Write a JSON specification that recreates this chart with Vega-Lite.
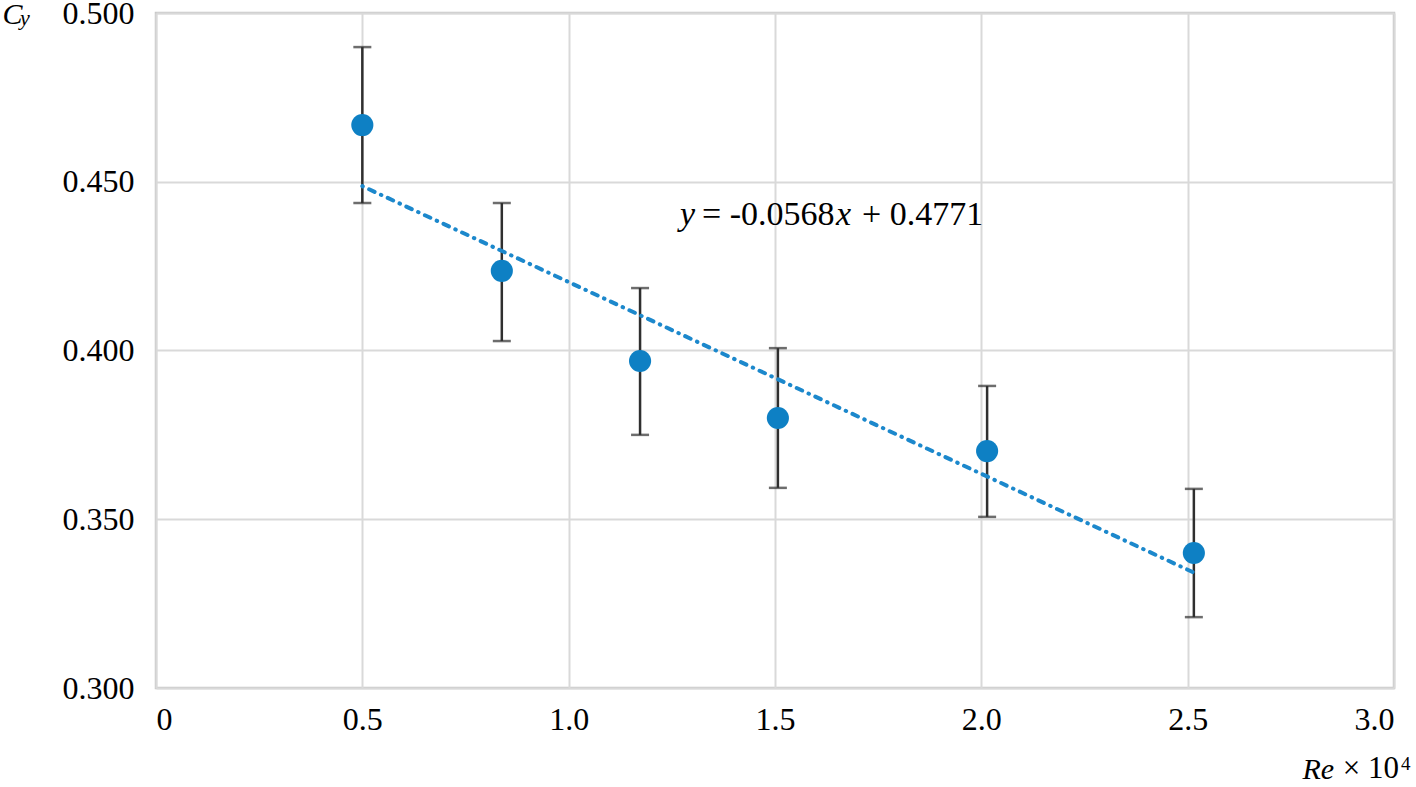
{
  "$schema": "https://vega.github.io/schema/vega-lite/v6.json",
  "width": 1238,
  "height": 675,
  "autosize": {"type": "none"},
  "padding": {"left": 156, "top": 13, "right": 22, "bottom": 99},
  "background": "white",
  "config": {
    "view": {"stroke": "#c8c8c8", "strokeWidth": 2.5},
    "font": "Liberation Serif"
  },
  "datasets": {
    "pts": [
      {"x": 0.5, "y": 0.4668, "lo": 0.4437, "hi": 0.4899},
      {"x": 0.838, "y": 0.4236, "lo": 0.4028, "hi": 0.4437},
      {"x": 1.173, "y": 0.3969, "lo": 0.375, "hi": 0.4185},
      {"x": 1.507, "y": 0.380, "lo": 0.3593, "hi": 0.4007},
      {"x": 2.014, "y": 0.3702, "lo": 0.3507, "hi": 0.3895},
      {"x": 2.515, "y": 0.340, "lo": 0.321, "hi": 0.359}
    ],
    "trend": [
      {"x": 0.5, "y": 0.4487},
      {"x": 2.515, "y": 0.3342}
    ],
    "italicLabels": [
      {"x": 1.2698, "y": 0.4372, "t": "y"},
      {"x": 1.6478, "y": 0.4372, "t": "x"}
    ],
    "plainLabels": [
      {"x": 1.3231, "y": 0.4372, "t": "= -0.0568"},
      {"x": 1.7108, "y": 0.4372, "t": "+ 0.4771"}
    ],
    "axisExtras": [
      {"x": 2.876, "y": 0.27333, "t": "× 10"}
    ],
    "superscript": [
      {"x": 3.0169, "y": 0.2757, "t": "4"}
    ],
    "subscript": [
      {"x": -0.3296, "y": 0.49644, "t": "y"}
    ]
  },
  "layer": [
    {
      "data": {"name": "pts"},
      "mark": {"type": "rule", "color": "#2f2f2f", "strokeWidth": 2.5},
      "encoding": {
        "x": {
          "field": "x", "type": "quantitative",
          "scale": {"domain": [0, 3], "nice": false, "zero": false},
          "axis": {
            "values": [0, 0.5, 1, 1.5, 2, 2.5, 3],
            "labelExpr": "datum.value == 0 ? '0' : format(datum.value, '.1f')",
            "labelFont": "Liberation Serif", "labelFontSize": 32, "labelColor": "#000",
            "labelPadding": 16, "ticks": false, "domain": false,
            "gridColor": "#d9d9d9", "gridWidth": 2,
            "title": "Re", "titleFont": "Liberation Serif", "titleFontSize": 30,
            "titleFontStyle": "italic", "titleFontWeight": "normal", "titleColor": "#000",
            "titleAlign": "left", "titleBaseline": "alphabetic",
            "titleX": 1146, "titleY": 90, "titleAngle": 0
          }
        },
        "y": {
          "field": "lo", "type": "quantitative",
          "scale": {"domain": [0.3, 0.5], "nice": false, "zero": false},
          "axis": {
            "values": [0.3, 0.35, 0.4, 0.45, 0.5],
            "format": ".3f",
            "labelFont": "Liberation Serif", "labelFontSize": 32, "labelColor": "#000",
            "labelPadding": 22, "ticks": false, "domain": false,
            "gridColor": "#d9d9d9", "gridWidth": 2,
            "title": "C", "titleFont": "Liberation Serif", "titleFontSize": 30,
            "titleFontStyle": "italic", "titleFontWeight": "normal", "titleColor": "#000",
            "titleAlign": "left", "titleBaseline": "alphabetic",
            "titleX": -154, "titleY": 10, "titleAngle": 0
          }
        },
        "y2": {"field": "hi"}
      }
    },
    {
      "data": {"name": "pts"},
      "mark": {"type": "tick", "orient": "horizontal", "color": "#2f2f2f", "size": 18, "thickness": 2.5},
      "encoding": {
        "x": {"field": "x", "type": "quantitative"},
        "y": {"field": "lo", "type": "quantitative"}
      }
    },
    {
      "data": {"name": "pts"},
      "mark": {"type": "tick", "orient": "horizontal", "color": "#2f2f2f", "size": 18, "thickness": 2.5},
      "encoding": {
        "x": {"field": "x", "type": "quantitative"},
        "y": {"field": "hi", "type": "quantitative"}
      }
    },
    {
      "data": {"name": "pts"},
      "mark": {"type": "circle", "color": "#0e80c4", "opacity": 1, "size": 490},
      "encoding": {
        "x": {"field": "x", "type": "quantitative"},
        "y": {"field": "y", "type": "quantitative"}
      }
    },
    {
      "data": {"name": "trend"},
      "mark": {"type": "line", "color": "#1c88cc", "strokeWidth": 4, "strokeCap": "round", "strokeDash": [0.5, 7, 6, 7]},
      "encoding": {
        "x": {"field": "x", "type": "quantitative"},
        "y": {"field": "y", "type": "quantitative"}
      }
    },
    {
      "data": {"name": "italicLabels"},
      "mark": {"type": "text", "font": "Liberation Serif", "fontSize": 34, "fontStyle": "italic", "align": "left", "baseline": "alphabetic", "color": "#000"},
      "encoding": {
        "x": {"field": "x", "type": "quantitative"},
        "y": {"field": "y", "type": "quantitative"},
        "text": {"field": "t"}
      }
    },
    {
      "data": {"name": "plainLabels"},
      "mark": {"type": "text", "font": "Liberation Serif", "fontSize": 34, "align": "left", "baseline": "alphabetic", "color": "#000"},
      "encoding": {
        "x": {"field": "x", "type": "quantitative"},
        "y": {"field": "y", "type": "quantitative"},
        "text": {"field": "t"}
      }
    },
    {
      "data": {"name": "axisExtras"},
      "mark": {"type": "text", "font": "Liberation Serif", "fontSize": 31, "align": "left", "baseline": "alphabetic", "color": "#000"},
      "encoding": {
        "x": {"field": "x", "type": "quantitative"},
        "y": {"field": "y", "type": "quantitative"},
        "text": {"field": "t"}
      }
    },
    {
      "data": {"name": "superscript"},
      "mark": {"type": "text", "font": "Liberation Serif", "fontSize": 19, "align": "left", "baseline": "alphabetic", "color": "#000"},
      "encoding": {
        "x": {"field": "x", "type": "quantitative"},
        "y": {"field": "y", "type": "quantitative"},
        "text": {"field": "t"}
      }
    },
    {
      "data": {"name": "subscript"},
      "mark": {"type": "text", "font": "Liberation Serif", "fontSize": 22, "fontStyle": "italic", "align": "left", "baseline": "alphabetic", "color": "#000"},
      "encoding": {
        "x": {"field": "x", "type": "quantitative"},
        "y": {"field": "y", "type": "quantitative"},
        "text": {"field": "t"}
      }
    }
  ]
}
